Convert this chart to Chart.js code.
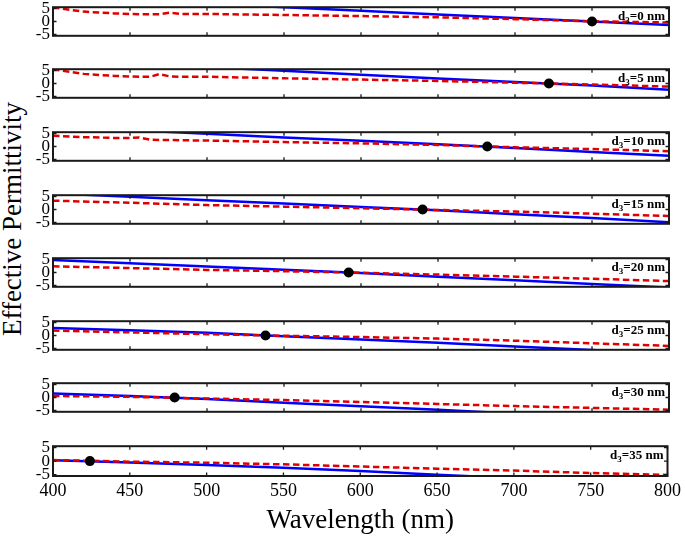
<!DOCTYPE html>
<html><head><meta charset="utf-8">
<script src="https://cdn.jsdelivr.net/npm/chart.js@4"></script>
<style>
html,body{margin:0;padding:0;background:#fff;}
body{width:685px;height:540px;position:relative;overflow:hidden;}
canvas{position:absolute;left:0;}
#ytitle{position:absolute;left:-138px;top:204px;width:300px;height:30px;line-height:30px;text-align:center;font-family:"Liberation Serif","Times New Roman",serif;font-size:27px;color:#000;transform:rotate(-90deg);white-space:nowrap;}
</style></head><body>
<div id="ytitle">Effective Permittivity</div>
<script>
// ---------- data ----------
const wl     = [400, 450, 500, 550, 600, 650, 700, 750, 800];
const wlFine = [400, 420, 440, 450, 456, 463, 469, 476, 483, 500, 550, 600, 650, 700, 750, 800];
const xTicks = [400, 450, 500, 550, 600, 650, 700, 750, 800];
const yTicks = [-5, 0, 5];
const thickness = [0, 5, 10, 15, 20, 25, 30, 35];

// solid blue curves (on wl)
const blue0 = [9.7, 8.3, 6.9, 5.5, 4.1, 2.7, 1.35, 0.0, -1.3];
const blue1 = [9.2, 7.7, 6.3, 4.9, 3.4, 1.9, 0.6, -0.8, -2.4];
const blue2 = [7.6, 6.3, 4.9, 3.5, 2.2, 0.9, -0.6, -2.1, -3.6];
const blue3 = [6.2, 4.9, 3.6, 2.3, 1.0, -0.3, -1.8, -3.3, -4.9];
const blue4 = [4.8, 3.6, 2.3, 1.1, -0.2, -1.6, -3.0, -4.4, -5.8];
const blue5 = [2.9, 2.0, 1.1, -0.3, -1.5, -2.8, -4.2, -5.6, -7.0];
const blue6 = [1.5, 0.6, -0.6, -2.0, -3.4, -4.7, -6.2, -7.6, -9.0];
const blue7 = [0.3, -0.5, -1.4, -2.5, -3.7, -5.0, -6.3, -7.6, -8.9];

// dashed red curves (panels 0-2 on wlFine, others on wl)
const red0 = [5.4, 3.8, 3.1, 2.9, 2.8, 2.8, 2.8, 3.4, 2.9, 2.9, 2.5, 2.1, 1.6, 0.9, 0.1, -0.4];
const red1 = [5.4, 3.7, 2.9, 2.7, 2.6, 2.55, 3.6, 2.7, 2.6, 2.6, 2.0, 1.5, 1.0, 0.3, -0.4, -1.2];
const red2 = [4.1, 3.6, 3.3, 3.3, 3.5, 2.6, 2.5, 2.5, 2.4, 2.3, 1.7, 1.2, 0.6, -0.3, -1.0, -1.8];
const red3 = [3.4, 2.6, 1.7, 1.1, 0.5, -0.2, -0.8, -1.6, -2.5];
const red4 = [2.4, 1.7, 1.0, 0.5, -0.1, -0.8, -1.6, -2.4, -3.3];
const red5 = [1.9, 1.2, 0.5, -0.1, -0.6, -1.2, -2.0, -3.0, -4.0];
const red6 = [0.6, 0.25, -0.4, -1.0, -1.7, -2.5, -3.3, -4.0, -4.7];
const red7 = [0.4, -0.2, -0.6, -1.2, -2.0, -2.8, -3.5, -4.4, -5.1];

// crossing points
const crossWl  = [750, 722, 682, 640, 592, 538, 479, 424];
const crossVal = [0, 0, 0, 0, 0, 0, 0, 0];

const blue = [blue0, blue1, blue2, blue3, blue4, blue5, blue6, blue7];
const red = [red0, red1, red2, red3, red4, red5, red6, red7];
const redWl = [wlFine, wlFine, wlFine, wl, wl, wl, wl, wl];

// ---------- layout ----------
const FONT = '"Liberation Serif", "Times New Roman", serif';
const panelTops = [6, 68, 131, 194, 257, 320, 382, 445];
const PAD = 12, AREA_H = 31, LEFT = 53, RIGHT_PAD = 16, W = 685, H = 540;

const framePlugin = {
  id: 'frame',
  afterDatasetsDraw(chart, args, opts) {
    const {ctx, chartArea: a} = chart;
    const x = chart.scales.x, y = chart.scales.y;
    ctx.save();
    ctx.strokeStyle = '#1a1a1a';
    ctx.lineWidth = 1.3;
    const tl = 3.5;
    ctx.beginPath();
    xTicks.forEach(v => {
      const px = x.getPixelForValue(v);
      ctx.moveTo(px, a.top); ctx.lineTo(px, a.top + tl);
      ctx.moveTo(px, a.bottom); ctx.lineTo(px, a.bottom - tl);
    });
    yTicks.forEach(v => {
      const py = y.getPixelForValue(v);
      ctx.moveTo(a.left, py); ctx.lineTo(a.left + tl, py);
      ctx.moveTo(a.right, py); ctx.lineTo(a.right - tl, py);
    });
    ctx.stroke();
    ctx.lineWidth = 2;
    ctx.strokeRect(a.left, a.top, a.right - a.left, a.bottom - a.top);
    // panel label d3=.. nm
    const big = 'bold 13px ' + FONT, small = 'bold 9px ' + FONT;
    const tail = '=' + opts.d + ' nm';
    ctx.font = big;
    const wTail = ctx.measureText(tail).width, wD = ctx.measureText('d').width;
    ctx.font = small;
    const wS = ctx.measureText('3').width;
    const base = a.top + 13;
    const x0 = a.right - 4 - wTail - wS - wD;
    ctx.fillStyle = '#000';
    ctx.textAlign = 'left';
    ctx.textBaseline = 'alphabetic';
    ctx.font = big; ctx.fillText('d', x0, base);
    ctx.font = small; ctx.fillText('3', x0 + wD, base + 3);
    ctx.font = big; ctx.fillText(tail, x0 + wD + wS, base);
    ctx.restore();
  }
};

function makePanel(i) {
  const isLast = i === 7;
  const canvas = document.createElement('canvas');
  const top = panelTops[i] - PAD;
  const h = isLast ? H - top : AREA_H + 2 * PAD;
  canvas.width = W; canvas.height = h;
  canvas.style.top = top + 'px';
  canvas.style.width = W + 'px'; canvas.style.height = h + 'px';
  document.body.appendChild(canvas);
  const toPts = (xs, ys) => xs.map((v, k) => ({x: v, y: ys[k]}));
  new Chart(canvas, {
    type: 'line',
    data: { datasets: [
      { label: 'crossing', data: [{x: crossWl[i], y: crossVal[i]}], showLine: false,
        pointRadius: 5, pointBackgroundColor: '#000', pointBorderColor: '#000', pointBorderWidth: 0, borderColor: '#000' },
      { label: 'dashed', data: toPts(redWl[i], red[i]), borderColor: '#e00000', borderWidth: 2.5,
        borderDash: [6.5, 3.5], pointRadius: 0, tension: 0, fill: false },
      { label: 'solid', data: toPts(wl, blue[i]), borderColor: '#0000ff', borderWidth: 2.5,
        pointRadius: 0, tension: 0, fill: false }
    ]},
    options: {
      responsive: false, animation: false, devicePixelRatio: 1,
      events: [],
      layout: { padding: { top: PAD, bottom: isLast ? 0 : PAD, left: 0, right: RIGHT_PAD } },
      plugins: { legend: {display: false}, tooltip: {enabled: false}, frame: { d: thickness[i] } },
      scales: {
        x: {
          type: 'linear', min: 400, max: 800, display: isLast,
          afterBuildTicks: s => { s.ticks = xTicks.map(v => ({value: v})); },
          afterFit: s => { if (isLast) s.height = H - panelTops[7] - AREA_H; },
          grid: {display: false, drawTicks: false}, border: {display: false},
          ticks: {autoSkip: false, maxRotation: 0, padding: 4, color: '#000', font: {family: FONT, size: 18}},
          title: { display: isLast, text: 'Wavelength (nm)', color: '#000',
                   font: {family: FONT, size: 27}, padding: {top: 0, bottom: 3} }
        },
        y: {
          type: 'linear', min: -5.5, max: 5.5,
          afterBuildTicks: s => { s.ticks = yTicks.map(v => ({value: v})); },
          afterFit: s => { s.width = LEFT; },
          grid: {display: false, drawTicks: false}, border: {display: false},
          ticks: {autoSkip: false, padding: 3, color: '#000', font: {family: FONT, size: 17}}
        }
      }
    },
    plugins: [framePlugin]
  });
}
for (let i = 0; i < 8; i++) makePanel(i);
</script></body></html>
